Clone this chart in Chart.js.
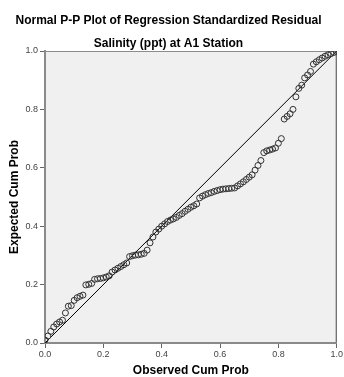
<!DOCTYPE html>
<html>
<head>
<meta charset="utf-8">
<script src="https://cdn.jsdelivr.net/npm/chart.js@4.4.1/dist/chart.umd.min.js"></script>
<style>
    html, body { margin: 0; padding: 0; background: #ffffff; }
    #wrap { width: 344px; height: 377px; }
</style>
</head>
<body>
<div id="wrap"><canvas id="graficoPP" width="344" height="377"></canvas></div>
<script>
// Observed cumulative probability (x) and expected cumulative probability (y)
const observado = [
    0.00, 0.01, 0.02, 0.03, 0.04, 0.05, 0.06, 0.07, 0.08, 0.09,
    0.10, 0.11, 0.12, 0.13, 0.14, 0.15, 0.16, 0.17, 0.18, 0.19,
    0.20, 0.21, 0.22, 0.23, 0.24, 0.25, 0.26, 0.27, 0.28, 0.29,
    0.30, 0.31, 0.32, 0.33, 0.34, 0.35, 0.36, 0.37, 0.38, 0.39,
    0.40, 0.41, 0.42, 0.43, 0.44, 0.45, 0.46, 0.47, 0.48, 0.49,
    0.50, 0.51, 0.52, 0.53, 0.54, 0.55, 0.56, 0.57, 0.58, 0.59,
    0.60, 0.61, 0.62, 0.63, 0.64, 0.65, 0.66, 0.67, 0.68, 0.69,
    0.70, 0.71, 0.72, 0.73, 0.74, 0.75, 0.76, 0.77, 0.78, 0.79,
    0.80, 0.81, 0.82, 0.83, 0.84, 0.85, 0.86, 0.87, 0.88, 0.89,
    0.90, 0.91, 0.92, 0.93, 0.94, 0.95, 0.96, 0.97, 0.98, 0.99,
    1.00
];
const esperado = [
    0.010, 0.024, 0.040, 0.055, 0.065, 0.072, 0.078, 0.103, 0.126, 0.128,
    0.146, 0.155, 0.160, 0.164, 0.199, 0.201, 0.204, 0.218, 0.220, 0.221,
    0.223, 0.226, 0.230, 0.243, 0.250, 0.256, 0.262, 0.268, 0.274, 0.296,
    0.299, 0.301, 0.302, 0.304, 0.307, 0.318, 0.343, 0.363, 0.380, 0.390,
    0.400, 0.408, 0.416, 0.421, 0.425, 0.430, 0.437, 0.443, 0.451, 0.458,
    0.465, 0.470, 0.476, 0.497, 0.503, 0.508, 0.512, 0.515, 0.519, 0.522,
    0.525, 0.527, 0.528, 0.529, 0.530, 0.531, 0.538, 0.545, 0.552, 0.560,
    0.568, 0.576, 0.592, 0.608, 0.625, 0.652, 0.658, 0.661, 0.664, 0.668,
    0.684, 0.700, 0.767, 0.776, 0.785, 0.800, 0.843, 0.872, 0.883, 0.908,
    0.918, 0.930, 0.955, 0.963, 0.970, 0.976, 0.982, 0.987, 0.991, 0.995,
    0.998
];
// Reference diagonal
const diagonalX = [0, 1];
const diagonalY = [0, 1];
const ticksEje = [0.0, 0.2, 0.4, 0.6, 0.8, 1.0];

const fuente = "'Liberation Sans', Arial, sans-serif";

// Plot background and frame (SPSS style)
const fondoGrafico = {
    id: 'fondoGrafico',
    beforeDraw(chart) {
        const { ctx, chartArea: a } = chart;
        ctx.save();
        ctx.fillStyle = '#f0f0f0';
        ctx.fillRect(a.left, a.top, a.right - a.left, a.bottom - a.top);
        ctx.lineWidth = 1;
        ctx.strokeStyle = '#8c8c8c';
        ctx.beginPath();
        ctx.moveTo(a.left, a.top + 0.5);
        ctx.lineTo(a.right, a.top + 0.5);
        ctx.stroke();
        ctx.strokeStyle = '#444444';
        ctx.beginPath();
        ctx.moveTo(a.right - 0.5, a.top);
        ctx.lineTo(a.right - 0.5, a.bottom);
        ctx.stroke();
        ctx.restore();
    }
};

const puntos = observado.map((x, i) => ({ x: x, y: esperado[i] }));
const linea = diagonalX.map((x, i) => ({ x: x, y: diagonalY[i] }));

const ctx = document.getElementById('graficoPP').getContext('2d');
new Chart(ctx, {
    type: 'scatter',
    data: {
        datasets: [{
            label: 'Diagonal',
            type: 'line',
            data: linea,
            borderColor: '#000000',
            borderWidth: 1,
            pointRadius: 0,
            fill: false,
            order: 2
        }, {
            label: 'Residuos',
            data: puntos,
            pointStyle: 'circle',
            pointRadius: 3,
            borderWidth: 1,
            borderColor: '#333333',
            backgroundColor: 'rgba(0,0,0,0)',
            order: 1
        }]
    },
    options: {
        responsive: false,
        animation: false,
        layout: { padding: { top: 0, right: 7, left: 0, bottom: 0 } },
        plugins: {
            legend: { display: false },
            tooltip: { enabled: false },
            title: {
                display: true,
                text: 'Normal P-P Plot of Regression Standardized Residual',
                color: '#000000',
                font: { family: fuente, size: 12, weight: 'bold', lineHeight: 1.2 },
                padding: { top: 13, bottom: 0 }
            },
            subtitle: {
                display: true,
                text: 'Salinity (ppt) at A1 Station',
                color: '#000000',
                font: { family: fuente, size: 12, weight: 'bold', lineHeight: 1.2 },
                padding: { top: 8.6, bottom: 0.6 }
            }
        },
        scales: {
            x: {
                type: 'linear',
                min: 0,
                max: 1,
                afterFit: function (scale) { scale.height = 34; },
                afterBuildTicks: function (scale) { scale.ticks = ticksEje.map(v => ({ value: v })); },
                ticks: {
                    color: '#444444',
                    font: { family: fuente, size: 9 },
                    padding: 1,
                    maxRotation: 0,
                    callback: function (value) { return Number(value).toFixed(1); }
                },
                grid: { drawOnChartArea: false, drawTicks: true, tickLength: 5, tickColor: '#666666' },
                border: { display: true, color: '#8a8a8a', width: 2 },
                title: {
                    display: true,
                    text: 'Observed Cum Prob',
                    color: '#000000',
                    font: { family: fuente, size: 12, weight: 'bold', lineHeight: 1 },
                    padding: { top: 0, bottom: 0 }
                }
            },
            y: {
                type: 'linear',
                min: 0,
                max: 1,
                afterFit: function (scale) { scale.width = 45; },
                afterBuildTicks: function (scale) { scale.ticks = ticksEje.map(v => ({ value: v })); },
                ticks: {
                    color: '#444444',
                    font: { family: fuente, size: 9 },
                    padding: 2,
                    callback: function (value) { return Number(value).toFixed(1); }
                },
                grid: { drawOnChartArea: false, drawTicks: true, tickLength: 5, tickColor: '#666666' },
                border: { display: true, color: '#8a8a8a', width: 2 },
                title: {
                    display: true,
                    text: 'Expected Cum Prob',
                    color: '#000000',
                    font: { family: fuente, size: 12, weight: 'bold', lineHeight: 1.2 },
                    padding: { top: 7.8, bottom: 0 }
                }
            }
        }
    },
    plugins: [fondoGrafico]
});
</script>
</body>
</html>
